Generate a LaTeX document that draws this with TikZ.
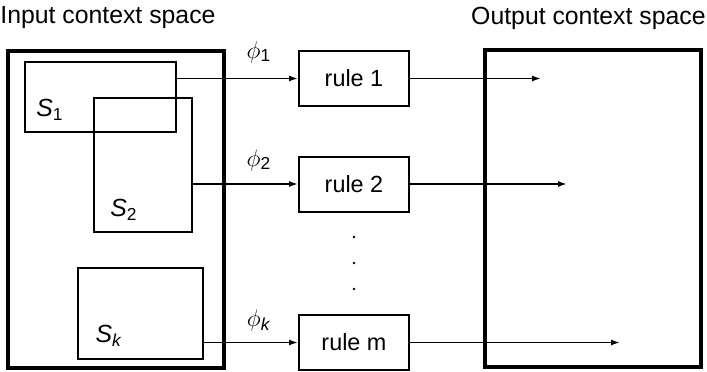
\documentclass[tikz,border=0pt]{standalone}
\usepackage{fontspec}
\setmainfont{Liberation Sans}
\usetikzlibrary{arrows.meta,positioning}

\begin{document}
\begin{tikzpicture}[x=0.5pt,y=-0.5pt,
    space/.style={draw,line width=1.6pt,minimum width=108pt,minimum height=158.5pt,inner sep=0pt},
    subset/.style={draw,line width=1pt,inner sep=0pt},
    rulebox/.style={draw,line width=1pt,minimum width=55pt,minimum height=27.5pt,font=\fontsize{11.7}{13}\selectfont},
    title/.style={font=\fontsize{12.4}{14}\selectfont,inner sep=0pt},
    lbl/.style={font=\fontsize{12.4}{14}\selectfont,inner sep=0pt},
    arrow/.style={-{Latex[length=4.5pt,width=3pt]},line width=0.8pt}]
  \useasboundingbox (0,0) rectangle (707,371);
  % titles
  \node[title,anchor=west] (intitle) at (0,18) {Input context space};
  \node[title,anchor=east] (outtitle) at (706,18) {Output context space};
  % the two spaces
  \node[space] (inspace) at (116,209.5) {};
  \node[space] (outspace) at (593,208.5) {};
  % subsets of the input space
  \node[subset,minimum width=75.5pt,minimum height=35pt] (s1) at (100.5,97) {};
  \node[subset,minimum width=49pt,minimum height=67pt] (s2) at (143,165) {};
  \node[subset,minimum width=62.5pt,minimum height=45.5pt] (sk) at (140.5,313.5) {};
  \node[lbl] (s1lbl) at (50,110) {\textit{S}\textsubscript{1}};
  \node[lbl] (s2lbl) at (124,210) {\textit{S}\textsubscript{2}};
  \node[lbl] (sklbl) at (109,336) {\textit{S}\textsubscript{\textit{k}}};
  % rules
  \node[rulebox] (rule1) at (354,78.5) {rule 1};
  \node[rulebox] (rule2) at (354,184) {rule 2};
  \node[rulebox] (rulem) at (354,342.5) {rule m};
  \foreach \y in {237,263,289}
    \fill (354,\y) circle (0.7pt);
  % mappings
  \node[lbl] (phi1) at (259,52) {$\phi$\textsubscript{1}};
  \node[lbl] (phi2) at (259,160) {$\phi$\textsubscript{2}};
  \node[lbl] (phik) at (259,320) {$\phi$\textsubscript{\textit{k}}};
  \draw[arrow] (rule1.west -| s1.east) -- (rule1.west);
  \draw[arrow] (rule2.west -| s2.east) -- (rule2.west);
  \draw[arrow] (rulem.west -| sk.east) -- (rulem.west);
  % outputs
  \coordinate (out1) at (541,78.5);
  \coordinate (out2) at (567,184);
  \coordinate (outm) at (620,342.5);
  \draw[arrow] (rule1.east) -- (out1);
  \draw[arrow] (rule2.east) -- (out2);
  \draw[arrow] (rulem.east) -- (outm);
\end{tikzpicture}
\end{document}
